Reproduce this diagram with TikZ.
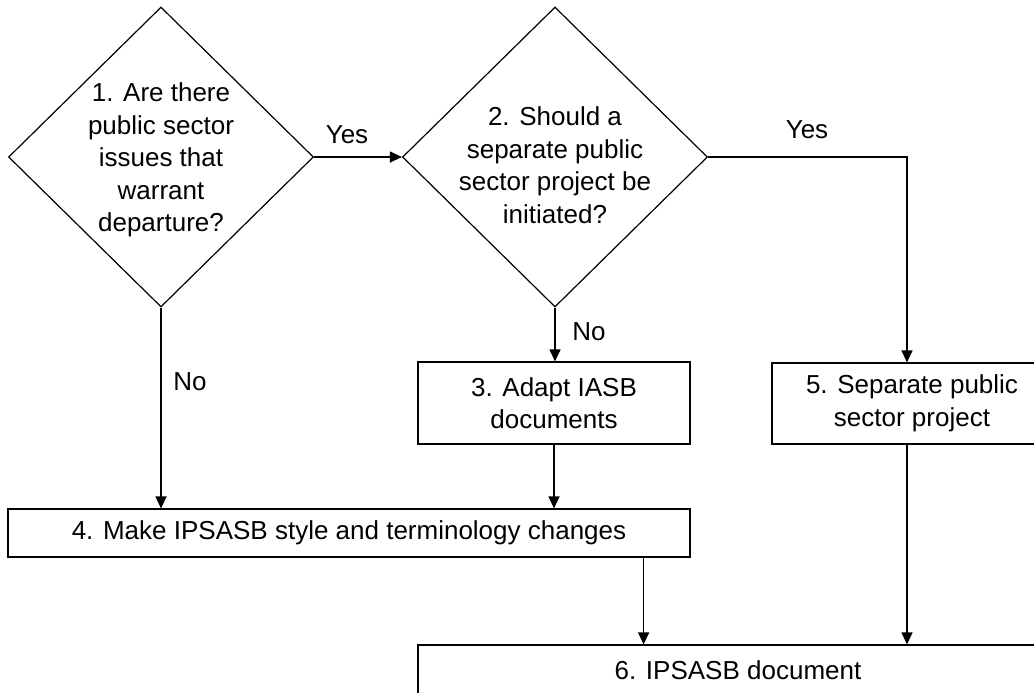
\documentclass[tikz,border=0pt]{standalone}
\usepackage{fontspec}
\setmainfont{Liberation Sans}
\usetikzlibrary{shapes.geometric,arrows.meta,positioning}

\begin{document}
\begin{tikzpicture}[x=0.5pt,y=-0.5pt,
  every node/.style={font=\fontsize{13}{16.25}\selectfont},
  dec/.style={draw,shape=diamond,minimum width=152.5pt,minimum height=150pt,inner sep=0pt,line width=0.6pt},
  dectxt/.style={align=center,inner sep=0pt},
  procbox/.style={draw,align=center,inner sep=0pt,line width=0.6pt},
  flow/.style={-{Triangle[length=6pt,width=5.5pt]},line width=0.6pt},
  lbl/.style={inner sep=0pt}]
\useasboundingbox (0,0) rectangle (1034,692);
\clip (0,0) rectangle (1034,692);
\node[dec] (d1) at (161,157) {};
\node[dectxt,yshift=-1.5pt] (q1) at (d1) {1. Are there\\public sector\\issues that\\warrant\\departure?};
\node[dec] (d2) at (555,157) {};
\node[dectxt,yshift=-4pt] (q2) at (d2) {2. Should a\\separate public\\sector project be\\initiated?};
\node[procbox,minimum width=136pt,minimum height=41pt] (b3) at (554,403) {3. Adapt IASB\\documents};
\node[procbox,minimum width=140pt,minimum height=40.5pt] (b5) at (912,403.5) {5. Separate public\\sector project};
\node[procbox,minimum width=341pt,minimum height=24pt] (b4) at (349,533) {4. Make IPSASB style and terminology changes};
\node[procbox,minimum width=320pt,minimum height=25.5pt] (b6) at (738,670.5) {6. IPSASB document};
\draw[flow] (d1.east) -- (d2.west);
\node[lbl] (yes1) at (347,135) {Yes};
\draw[flow] (d2.east) -| ([xshift=-2.5pt]b5.north);
\node[lbl] (yes2) at (807,130) {Yes};
\draw[flow] (d2.south) -- (d2.south |- b3.north);
\node[lbl] (no2) at (589,332) {No};
\draw[flow] (d1.south) -- (d1.south |- b4.north);
\node[lbl] (no1) at (190,382) {No};
\draw[flow] (b3.south) -- (b3.south |- b4.north);
\draw[flow] ([xshift=-23.5pt]b4.south east) -- ([xshift=-23.5pt]b4.south east |- b6.north);
\draw[flow] ([xshift=-2.5pt]b5.south) -- ([xshift=-2.5pt]b5.south |- b6.north);
\end{tikzpicture}
\end{document}
